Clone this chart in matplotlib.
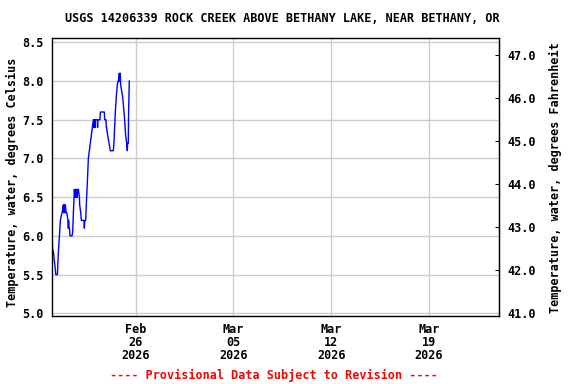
import matplotlib
matplotlib.use('Agg')
import matplotlib.pyplot as plt
import matplotlib.dates as mdates
import pandas as pd

# data (hours after 2026-02-20 00:00, deg C)
start = pd.Timestamp('2026-02-20 00:00')
hours = [0.0, 1.8, 2.9, 4.0, 5.8, 6.9, 9.8, 10.3, 11.5, 13.2, 14.9, 16.0, 17.8, 18.9,
         20.0, 20.5, 21.0, 21.5, 22.0, 22.5, 23.5, 24.6, 25.8, 28.0, 28.5, 29.0, 29.5,
         30.3, 31.5, 34.9, 36.0, 37.2, 38.9, 39.6, 40.3, 41.0, 41.7, 42.4, 43.1, 43.8,
         44.5, 45.8, 47.5, 48.0, 49.8, 50.9, 55.4, 56.0, 56.9, 58.3, 60.0, 61.2, 62.9,
         64.6, 66.3, 68.0, 69.7, 71.5, 72.1, 72.7, 73.9, 74.4, 74.9, 78.3, 78.7, 79.2,
         82.9, 83.5, 90.3, 90.9, 93.2, 93.7, 94.3, 96.0, 97.2, 98.3, 100.6, 105.7, 106.9,
         108.0, 109.2, 110.9, 112.6, 113.7, 114.9, 116.0, 116.5, 117.0, 117.7, 118.4,
         119.5, 121.8, 123.5, 125.2, 126.9, 128.6, 129.8, 130.4, 131.5, 132.0, 133.2]
temps = [6.0, 5.8, 5.8, 5.7, 5.6, 5.5, 5.5, 5.6, 5.8, 6.0, 6.2, 6.25, 6.3, 6.35,
         6.4, 6.3, 6.4, 6.3, 6.4, 6.3, 6.4, 6.3, 6.3, 6.2, 6.1, 6.2, 6.1,
         6.1, 6.0, 6.0, 6.05, 6.3, 6.6, 6.5, 6.6, 6.5, 6.6, 6.5, 6.6, 6.5,
         6.6, 6.6, 6.5, 6.4, 6.3, 6.2, 6.2, 6.1, 6.2, 6.2, 6.5, 6.7, 7.0,
         7.1, 7.2, 7.3, 7.4, 7.5, 7.4, 7.5, 7.5, 7.4, 7.5, 7.5, 7.4, 7.5,
         7.5, 7.6, 7.6, 7.5, 7.5, 7.4, 7.4, 7.3, 7.25, 7.2, 7.1, 7.1, 7.2,
         7.4, 7.6, 7.8, 7.95, 8.0, 8.0, 8.1, 8.0, 8.1, 8.1, 7.95,
         7.9, 7.8, 7.65, 7.5, 7.3, 7.2, 7.1, 7.2, 7.2, 7.6, 8.0]

tick_dates = ['2026-02-26', '2026-03-05', '2026-03-12', '2026-03-19']
c_ticks = [5.0, 5.5, 6.0, 6.5, 7.0, 7.5, 8.0, 8.5]
f_ticks = [41, 42, 43, 44, 45, 46, 47]

title = 'USGS 14206339 ROCK CREEK ABOVE BETHANY LAKE, NEAR BETHANY, OR'
left_label = 'Temperature, water, degrees Celsius'
right_label = 'Temperature, water, degrees Fahrenheit'
note = '---- Provisional Data Subject to Revision ----'

times = start + pd.to_timedelta(hours, unit='h')

font = dict(family='DejaVu Sans Mono', weight='bold', size=8.5)
plt.rcParams['font.family'] = 'DejaVu Sans Mono'
plt.rcParams['font.weight'] = 'bold'
plt.rcParams['font.size'] = 8.5

fig = plt.figure(figsize=(5.76, 3.84), dpi=100)
ax = fig.add_axes([0.0898, 0.177, 0.7765, 0.724])

ax.plot(times, temps, color='#0000ff', linewidth=1.0)

ax.set_xlim(pd.Timestamp('2026-02-20'), pd.Timestamp('2026-03-24'))
ax.set_ylim(4.965, 8.556)
ax.set_yticks(c_ticks)
ax.yaxis.set_major_formatter(plt.FormatStrFormatter('%.1f'))
ax.set_xticks(pd.to_datetime(tick_dates))
ax.xaxis.set_major_formatter(mdates.DateFormatter('%b\n%d\n%Y'))
ax.tick_params(axis='y', length=0, pad=6, labelsize=8.5)
ax.tick_params(axis='x', length=0, pad=5, labelsize=8.5)
for lab in ax.get_xticklabels():
    lab.set_linespacing(1.0)
ax.grid(True, color='#cccccc', linewidth=1.0)
ax.set_axisbelow(True)
for s in ax.spines.values():
    s.set_linewidth(1.0)
    s.set_color('black')

c2f = lambda c: c * 9 / 5 + 32
f2c = lambda f: (f - 32) * 5 / 9
ax2 = ax.secondary_yaxis('right', functions=(c2f, f2c))
ax2.set_yticks(f_ticks)
ax2.yaxis.set_major_formatter(plt.FormatStrFormatter('%.1f'))
ax2.tick_params(direction='in', length=3, pad=6, labelsize=8.5)

# axis titles placed in figure pixels
fig.text(12 / 576, 1 - 182 / 384, left_label, rotation=90, ha='center', va='center', **font)
fig.text(555 / 576, 1 - 178 / 384, right_label, rotation=90, ha='center', va='center', **font)
fig.text(282 / 576, 1 - 19 / 384, title, ha='center', va='center', **font)
fig.text(274 / 576, 1 - 375 / 384, note, ha='center', va='center', color='red', **font)

fig.savefig('out.png', dpi=100)
